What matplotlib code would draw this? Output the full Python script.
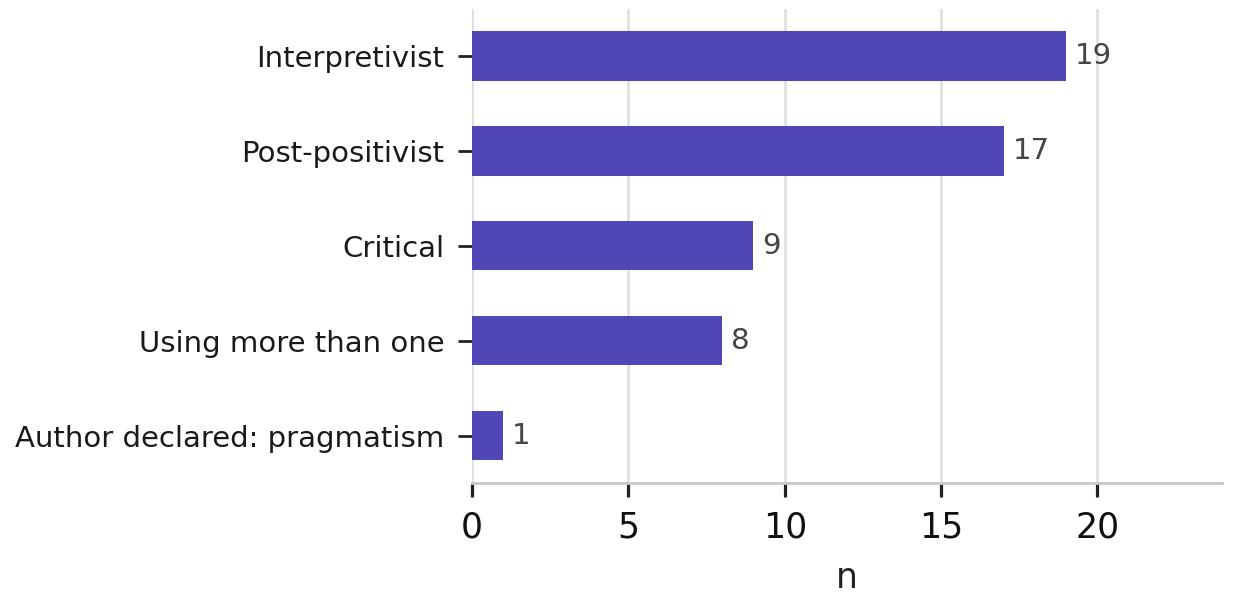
import matplotlib
matplotlib.use("Agg")
import matplotlib.pyplot as plt

categories = ["Author declared: pragmatism", "Using more than one", "Critical",
              "Post-positivist", "Interpretivist"]
counts = [1, 8, 9, 17, 19]
xticks = [0, 5, 10, 15, 20]

fig = plt.figure(figsize=(12.36, 6.05), dpi=100)
ax = fig.add_axes([0.382, 0.2017, 0.607, 0.784])

y = list(range(len(categories)))
ax.barh(y, counts, height=0.52, color="#5046b6", zorder=3)
for yi, c in zip(y, counts):
    ax.text(c + 0.28, yi, str(c), va="center", ha="left", fontsize=21, color="#444444")

ax.set_xlim(0, 24)
ax.set_ylim(-0.5, 4.5)
ax.set_yticks(y)
ax.set_yticklabels(categories, fontsize=21, color="#1a1a1a")
ax.set_xticks(xticks)
ax.set_xticklabels([str(t) for t in xticks], fontsize=25, color="#111111")
ax.set_xlabel("n", fontsize=25, labelpad=12, color="#222222")

ax.grid(axis="x", color="#dddddd", linewidth=1.8, zorder=0)
for s in ["top", "right", "left"]:
    ax.spines[s].set_visible(False)
ax.spines["bottom"].set_color("#c8c8c8")
ax.spines["bottom"].set_linewidth(2)
ax.tick_params(axis="x", length=10, width=2.3, color="#222222", pad=10)
ax.tick_params(axis="y", length=10, width=2, color="#222222", pad=10)

fig.savefig("out.png", dpi=100)
